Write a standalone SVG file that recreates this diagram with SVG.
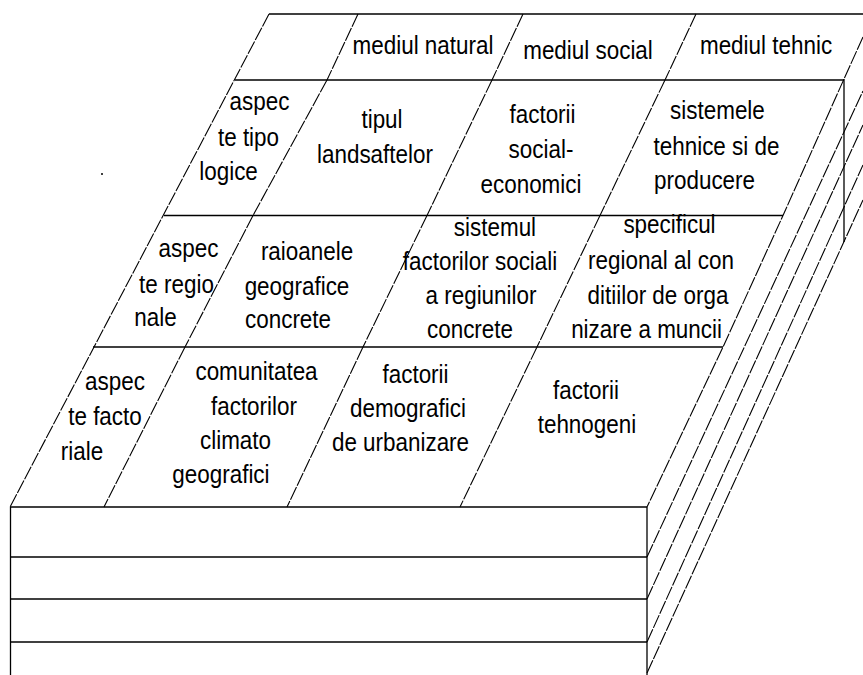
<svg xmlns="http://www.w3.org/2000/svg" width="863" height="675" viewBox="0 0 863 675">
<style>
.s{stroke:#000;stroke-width:1.3;fill:none}
.d{stroke:#000;stroke-width:1.1;fill:none;stroke-dasharray:14 1.5}
text{font-family:"Liberation Sans",Arial,sans-serif;font-size:25.5px;fill:#000;text-anchor:middle}
</style>
<rect width="863" height="675" fill="#fff"/>
<g id="connectors">
<g id="solid-lines" class="s">
<line x1="269" y1="14" x2="863" y2="14"/>
<line x1="235" y1="80" x2="844" y2="80"/>
<line x1="164" y1="215.5" x2="783" y2="215.5"/>
<line x1="93" y1="347" x2="723" y2="347"/>
<line x1="10" y1="507" x2="647" y2="507"/>
<line x1="10" y1="557" x2="647" y2="557"/>
<line x1="10" y1="599" x2="647" y2="599"/>
<line x1="10" y1="642" x2="647" y2="642"/>
<line x1="10.5" y1="507" x2="10.5" y2="675"/>
<line x1="647" y1="507" x2="647" y2="675"/>
<line x1="844" y1="79" x2="844" y2="242"/>
</g>
<g id="slanted-lines" class="d">
<line x1="269" y1="14" x2="10" y2="507"/>
<polyline points="863,37 844,79 783,215.5 723,347 647,507"/>
<line x1="647" y1="557" x2="863" y2="91"/>
<line x1="647" y1="599" x2="863" y2="125"/>
<line x1="647" y1="642" x2="863" y2="165"/>
<line x1="647" y1="673" x2="863" y2="200"/>
<line x1="358" y1="14" x2="327" y2="80"/>
<line x1="523" y1="14" x2="492" y2="80"/>
<line x1="696" y1="14" x2="665" y2="80"/>
<line x1="327" y1="80" x2="253" y2="215.5"/>
<line x1="492" y1="80" x2="427" y2="215.5"/>
<line x1="665" y1="80" x2="600" y2="215.5"/>
<line x1="253" y1="215.5" x2="185" y2="347"/>
<line x1="427" y1="215.5" x2="363" y2="347"/>
<line x1="600" y1="215.5" x2="537" y2="347"/>
<line x1="185" y1="347" x2="104" y2="507"/>
<line x1="363" y1="347" x2="287" y2="507"/>
<line x1="537" y1="347" x2="460" y2="507"/>
</g>
<circle cx="102" cy="174" r="1" fill="#000"/>
</g>
<g transform="scale(0.88 1)">
<g id="hdr-natural"><text x="480.7" y="54">mediul natural</text></g>
<g id="hdr-social"><text x="668.2" y="59">mediul social</text></g>
<g id="hdr-tehnic"><text x="870.5" y="54">mediul tehnic</text></g>
<g id="row-tipologice"><text x="294.9" y="110">aspec</text><text x="282.4" y="146">te tipo</text><text x="259.7" y="180">logice</text></g>
<g id="cell-tipul"><text x="434.1" y="128">tipul</text><text x="426.1" y="163">landsaftelor</text></g>
<g id="cell-socialeconomici"><text x="616.5" y="123">factorii</text><text x="614.8" y="158">social-</text><text x="603.4" y="193">economici</text></g>
<g id="cell-sistemele"><text x="815.3" y="119">sistemele</text><text x="814.2" y="155">tehnice si de</text><text x="800.6" y="189">producere</text></g>
<g id="row-regionale"><text x="214.2" y="257">aspec</text><text x="200.6" y="293">te regio</text><text x="176.7" y="326">nale</text></g>
<g id="cell-raioanele"><text x="348.9" y="260">raioanele</text><text x="337.5" y="295">geografice</text><text x="327.3" y="328">concrete</text></g>
<g id="cell-sistemul"><text x="562.5" y="236">sistemul</text><text x="545.5" y="270">factorilor sociali</text><text x="546.6" y="304">a regiunilor</text><text x="534.1" y="338">concrete</text></g>
<g id="cell-specificul"><text x="760.8" y="233">specificul</text><text x="751.1" y="269">regional al con</text><text x="747.7" y="304">ditiilor de orga</text><text x="734.7" y="338">nizare a muncii</text></g>
<g id="row-factoriale"><text x="130.7" y="390">aspec</text><text x="119.3" y="425">te facto</text><text x="93.2" y="460">riale</text></g>
<g id="cell-comunitatea"><text x="291.5" y="380">comunitatea</text><text x="288.6" y="415">factorilor</text><text x="267.6" y="449">climato</text><text x="251.1" y="483">geografici</text></g>
<g id="cell-demografici"><text x="472.2" y="383">factorii</text><text x="463.6" y="417">demografici</text><text x="455.1" y="451">de urbanizare</text></g>
<g id="cell-tehnogeni"><text x="665.9" y="399">factorii</text><text x="667" y="433">tehnogeni</text></g>
</g>
</svg>
